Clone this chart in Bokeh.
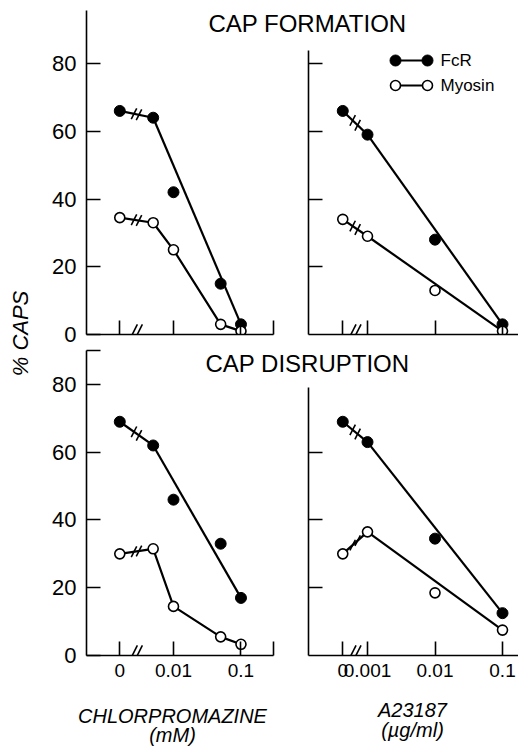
import math
from bokeh.plotting import figure
from bokeh.models import Range1d, FixedTicker, GridBox, Label
from bokeh.core.properties import value
from bokeh.embed import file_html
from bokeh.resources import INLINE

# ---------------- data ----------------
chlor_dose = [0, 0.005, 0.01, 0.05, 0.1]      # chlorpromazine, mM
a23_dose = [0, 0.001, 0.01, 0.1]              # A23187, ug/ml

formation_chlor_fcr = [66, 64, 42, 15, 3]
formation_chlor_myosin = [34.5, 33, 25, 3, 1]
formation_a23_fcr = [66, 59, 28, 3]
formation_a23_myosin = [34, 29, 13, 1]

disruption_chlor_fcr = [69, 62, 46, 33, 17]
disruption_chlor_myosin = [30, 31.5, 14.5, 5.5, 3.3]
disruption_a23_fcr = [69, 63, 34.5, 12.5]
disruption_a23_myosin = [30, 36.5, 18.5, 7.5]

y_tick_values = [0, 20, 40, 60, 80]
y_tick_labels = ["0", "20", "40", "60", "80"]
chlor_tick_values = [0, 0.01, 0.1]
chlor_tick_labels = ["0", "0.01", "0.1"]
a23_tick_values = [0, 0.001, 0.01, 0.1]
a23_tick_labels = ["0", "0.001", "0.01", "0.1"]

titles = ["CAP FORMATION", "CAP DISRUPTION"]
series_names = ["FcR", "Myosin"]
x_titles = [("CHLORPROMAZINE", "(mM)"), ("A23187", "(\u00b5g/ml)")]
y_title = "% CAPS"

# position used for the zero dose on the broken log axis
ZERO_CHLOR = 0.0016
ZERO_A23 = 0.00043

FONT = "Liberation Sans"
PX_DEC = 67.5


def xpos(dose, zero):
    return [zero if d == 0 else d for d in dose]


def make_panel(width, height, borders, xr, yr, xticks, xlabels, xbounds,
               yticks, ylabels, ybounds, show_x, show_y):
    bl, br, bt, bb = borders
    p = figure(width=width, height=height, x_axis_type="log",
               x_range=Range1d(*xr), y_range=Range1d(*yr),
               min_border_left=bl, min_border_right=br,
               min_border_top=bt, min_border_bottom=bb,
               toolbar_location=None, output_backend="svg")
    p.outline_line_color = None
    p.xgrid.visible = False
    p.ygrid.visible = False
    p.background_fill_color = "white"
    p.border_fill_color = "white"
    for ax in (p.xaxis[0], p.yaxis[0]):
        ax.axis_line_width = 1.6
        ax.major_tick_line_width = 1.6
        ax.major_tick_in = 14
        ax.major_tick_out = 0
        ax.minor_tick_line_color = None
        ax.major_label_text_color = "black"
    xa = p.xaxis[0]
    xa.ticker = FixedTicker(ticks=xticks, minor_ticks=[])
    xa.major_label_overrides = {float(t): (l if show_x else "") for t, l in zip(xticks, xlabels)}
    xa.major_label_text_font = FONT
    xa.major_label_text_font_size = "19px" if show_x else "1px"
    xa.major_label_standoff = 8 if show_x else 0
    xa.bounds = xbounds
    ya = p.yaxis[0]
    ya.ticker = FixedTicker(ticks=yticks, minor_ticks=[])
    ya.major_label_overrides = {float(t): (l if show_y else "") for t, l in zip(yticks, ylabels)}
    ya.major_label_text_font = FONT
    ya.major_label_text_font_size = "22px" if show_y else "1px"
    ya.major_label_standoff = 10 if show_y else 0
    ya.bounds = ybounds
    return p


def breaks(p, xs, ys, size, spread):
    # two slanted strokes "//" halfway (in log space) between two points
    lx0, lx1 = math.log10(xs[0]), math.log10(xs[1])
    lm = (lx0 + lx1) / 2
    bx, by = [], []
    for d in (-spread, spread):
        lx = lm + d / PX_DEC
        t = (lx - lx0) / (lx1 - lx0)
        bx.append(10 ** lx)
        by.append(ys[0] + (ys[1] - ys[0]) * t)
    p.scatter(bx, by, marker="dash", size=size, angle=1.1,
              line_color="black", line_width=1.6)


def draw_series(p, dose, vals, zero, mode, filled):
    xs = xpos(dose, zero)
    lw = 2.2
    p.line(xs[:2], vals[:2], line_color="black", line_width=lw)
    if mode == "connect":
        p.line(xs[1:], vals[1:], line_color="black", line_width=lw)
    else:
        p.line([xs[1], xs[-1]], [vals[1], vals[-1]], line_color="black", line_width=lw)
    breaks(p, xs[:2], vals[:2], 12, 2.5)
    if filled:
        p.scatter(xs, vals, size=11, fill_color="black", line_color="black")
    else:
        p.scatter(xs, vals, size=10, fill_color="white", line_color="black", line_width=1.6)


def axis_break(p, dose, zero):
    xs = xpos(dose, zero)
    breaks(p, xs[:2], [1.0, 1.0], 15, 2.5)


chl_ticks = xpos(chlor_tick_values, ZERO_CHLOR) + [0.3]
chl_labels = chlor_tick_labels + [""]
a23_ticks = xpos(a23_tick_values, ZERO_A23)

XR_L = (5.14e-4, 0.336)
XR_R = (1.336e-4, 0.1726)
YR_T = (0, 95.65)
YR_B = (0, 90.33)

# top-left : cap formation, chlorpromazine
tl = make_panel(280, 348, (86, 4, 10, 14), XR_L, YR_T, chl_ticks, chl_labels, (XR_L[0], 0.3),
                y_tick_values, y_tick_labels, (0, YR_T[1]), False, True)
axis_break(tl, chlor_dose, ZERO_CHLOR)
draw_series(tl, chlor_dose, formation_chlor_fcr, ZERO_CHLOR, "trend", True)
draw_series(tl, chlor_dose, formation_chlor_myosin, ZERO_CHLOR, "connect", False)

# top-right : cap formation, A23187
tr = make_panel(238, 348, (28, 0, 10, 14), XR_R, YR_T, a23_ticks, a23_tick_labels, "auto",
                y_tick_values[1:], y_tick_labels[1:], (0, 83.8), False, False)
axis_break(tr, a23_dose, ZERO_A23)
draw_series(tr, a23_dose, formation_a23_fcr, ZERO_A23, "trend", True)
draw_series(tr, a23_dose, formation_a23_myosin, ZERO_A23, "trend", False)

# bottom-left : cap disruption, chlorpromazine
bl = make_panel(280, 398, (86, 4, 1, 91), XR_L, YR_B, chl_ticks, chl_labels, (XR_L[0], 0.3),
                y_tick_values + [90], y_tick_labels + [""], (0, 90), True, True)
axis_break(bl, chlor_dose, ZERO_CHLOR)
draw_series(bl, chlor_dose, disruption_chlor_fcr, ZERO_CHLOR, "trend", True)
draw_series(bl, chlor_dose, disruption_chlor_myosin, ZERO_CHLOR, "connect", False)

# bottom-right : cap disruption, A23187
br = make_panel(238, 398, (28, 0, 1, 91), XR_R, YR_B, a23_ticks, a23_tick_labels, "auto",
                y_tick_values[1:4], y_tick_labels[1:4], (0, 79), True, False)
axis_break(br, a23_dose, ZERO_A23)
draw_series(br, a23_dose, disruption_a23_fcr, ZERO_A23, "trend", True)
draw_series(br, a23_dose, disruption_a23_myosin, ZERO_A23, "trend", False)

# transparent overlay (page pixel coordinates) for texts spanning the panels
ov = figure(width=518, height=746, x_range=Range1d(0, 518), y_range=Range1d(746, 0),
            min_border=0, x_axis_location=None, y_axis_location=None,
            toolbar_location=None, output_backend="svg")
ov.outline_line_color = None
ov.background_fill_color = None
ov.border_fill_color = None
ov.grid.visible = False


def add_label(x, y, text, size, style="normal", angle=0.0):
    ov.add_layout(Label(x=x, y=y, text=text, text_align="center", text_baseline="middle",
                        text_font=FONT, text_font_size=size, text_font_style=style,
                        text_color="black", angle=angle))


add_label(307, 22.5, titles[0], "24px")
add_label(307, 363, titles[1], "24px")
add_label(20, 333, y_title, "22px", "italic", math.pi / 2)
add_label(172, 715, x_titles[0][0], "20px", "italic")
add_label(172, 734, x_titles[0][1], "20px", "italic")
add_label(412, 709, x_titles[1][0], "20px", "italic")
add_label(412, 729, x_titles[1][1], "20px", "italic")

# legend  (marker - line - marker, then name)
for i, (name, filled) in enumerate(zip(series_names, [True, False])):
    yy = 60 + i * 25
    ov.line([395, 427], [yy, yy], line_color="black", line_width=2.2)
    if filled:
        ov.scatter([395, 427], [yy, yy], size=11, fill_color="black", line_color="black")
    else:
        ov.scatter([395, 427], [yy, yy], size=10, fill_color="white", line_color="black", line_width=1.6)
    ov.text([440], [yy], text=[name], text_font=value(FONT), text_font_size="17px",
            text_align="left", text_baseline="middle", text_color="black")

panels = GridBox(children=[(tl, 0, 0), (tr, 0, 1), (bl, 1, 0), (br, 1, 1)], spacing=0)
layout = GridBox(children=[(panels, 0, 0), (ov, 0, 0)], spacing=0)

open("out.html", "w").write(file_html(layout, INLINE))
